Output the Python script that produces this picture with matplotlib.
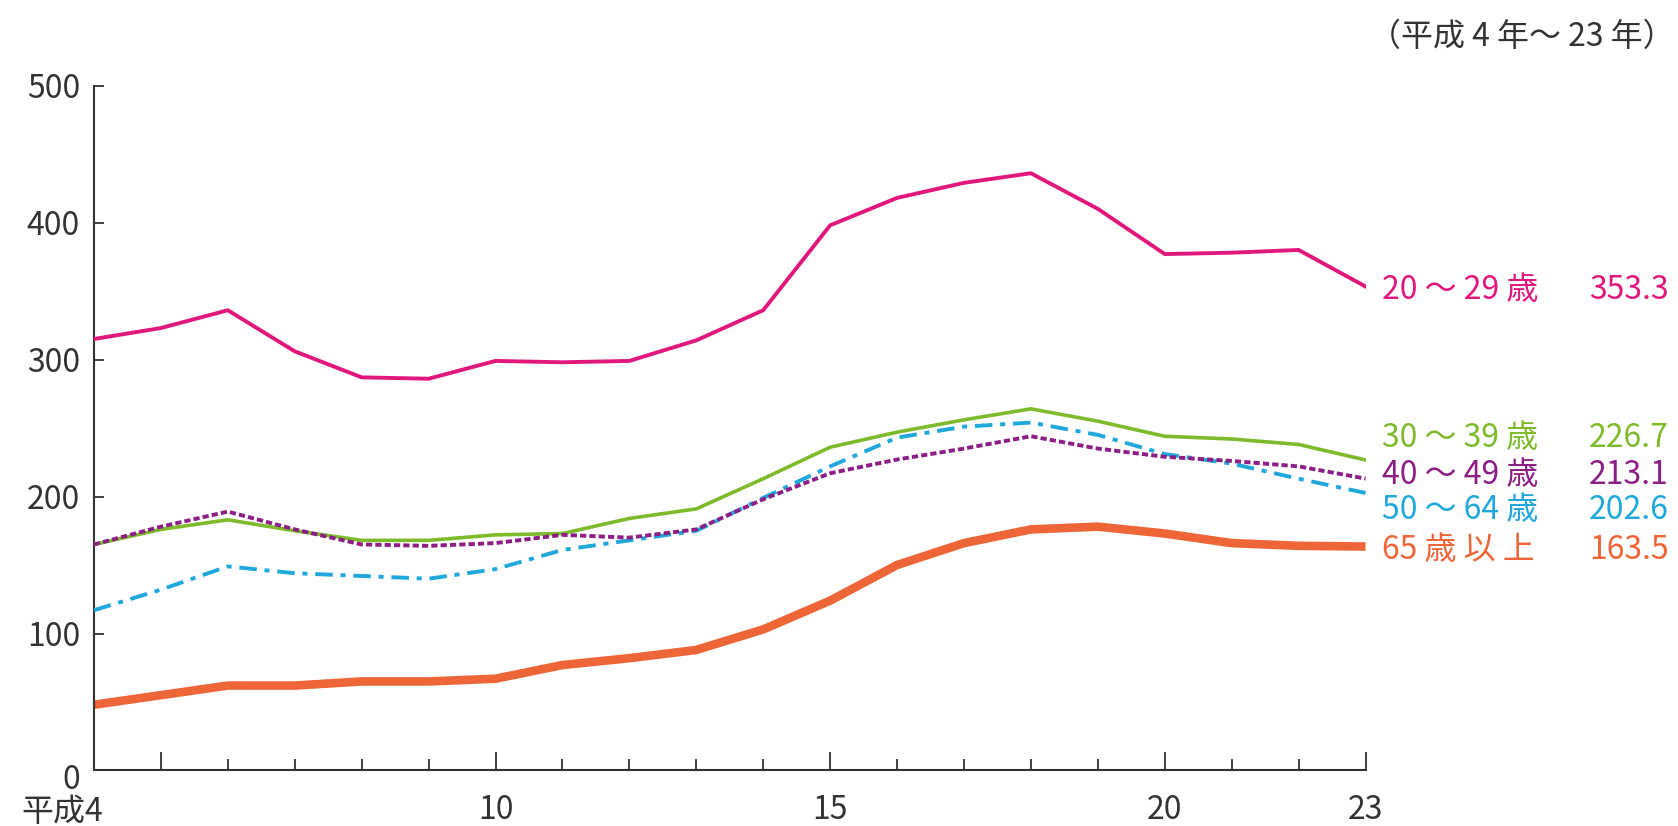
import matplotlib
matplotlib.use('Agg')
import matplotlib.pyplot as plt
import matplotlib.transforms as mtransforms

plt.rcParams['font.family'] = ['Noto Sans CJK JP', 'DejaVu Sans']

# 平成4年～23年
years = list(range(4, 24))

age20 = [315, 323, 336, 306, 287, 286, 299, 298, 299, 314, 336, 398, 418, 429, 436, 410, 377, 378, 380, 353.3]
age30 = [165, 176, 183, 175, 168, 168, 172, 173, 184, 191, 213, 236, 247, 256, 264, 255, 244, 242, 238, 226.7]
age40 = [165, 178, 189, 176, 165, 164, 166, 172, 170, 176, 198, 217, 227, 235, 244, 235, 229, 226, 222, 213.1]
age50 = [117, 132, 149, 144, 142, 140, 147, 161, 168, 175, 199, 222, 243, 251, 254, 245, 231, 224, 213, 202.6]
age65 = [48, 55, 62, 62, 65, 65, 67, 77, 82, 88, 103, 124, 150, 166, 176, 178, 173, 166, 164, 163.5]

names = ['20 ～ 29 歳', '30 ～ 39 歳', '40 ～ 49 歳', '50 ～ 64 歳', '65 歳 以 上']
last_vals = ['353.3', '226.7', '213.1', '202.6', '163.5']
label_y = [351, 243, 216, 190, 161]

colors = ['#E2177C', '#7DBB2B', '#8C1E86', '#1EA8DC', '#EE6538']

fig = plt.figure(figsize=(16.78, 8.26), dpi=100)
ax = fig.add_axes([0.056, 0.0672, 0.7578, 0.8292])

# 描画順：太いオレンジを下に
ax.plot(years, age65, color=colors[4], lw=6.2, solid_capstyle='butt', zorder=2)
ax.plot(years, age50, color=colors[3], lw=2.8, linestyle=(0, (4.5, 2.0, 1.3, 2.0)), zorder=3)
ax.plot(years, age40, color=colors[2], lw=2.8, linestyle=(0, (1.6, 0.8)), zorder=4)
ax.plot(years, age30, color=colors[1], lw=2.6, zorder=3)
ax.plot(years, age20, color=colors[0], lw=2.8, zorder=5)

ax.set_xlim(4, 23)
ax.set_ylim(0, 500)

for s in ['top', 'right']:
    ax.spines[s].set_visible(False)
ax.spines['left'].set_color('#333333')
ax.spines['bottom'].set_color('#333333')
ax.spines['left'].set_linewidth(1.5)
ax.spines['bottom'].set_linewidth(1.5)

ax.set_yticks([0, 100, 200, 300, 400, 500])
ax.tick_params(axis='y', direction='in', length=7, width=1.3, color='#333333',
               labelsize=23, labelcolor='#333333', pad=10)
# 「0」は少し下げる
lab0 = ax.get_yticklabels()[0]
lab0.set_transform(lab0.get_transform() + mtransforms.ScaledTranslation(0, -4 / 72, fig.dpi_scale_trans))

ax.set_xticks([5, 10, 15, 20, 23])
ax.set_xticklabels(['', '10', '15', '20', '23'])
ax.set_xticks([6, 7, 8, 9, 11, 12, 13, 14, 16, 17, 18, 19, 21, 22], minor=True)
ax.tick_params(axis='x', which='major', direction='in', length=13, width=1.3,
               color='#333333', labelsize=23, labelcolor='#333333', pad=17)
ax.tick_params(axis='x', which='minor', direction='in', length=8, width=1.3,
               color='#333333')

# 左端の「平成4」
trans = mtransforms.blended_transform_factory(ax.transData, ax.transAxes)
ax.text(4.13, -0.037, '平成4', transform=trans, ha='right', va='top',
        fontsize=23, color='#333333')

# 右側のラベル
for name, val, yv, c in zip(names, last_vals, label_y, colors):
    ax.text(23.24, yv, name, color=c, fontsize=23, ha='left', va='center', clip_on=False)
    ax.text(27.53, yv, val, color=c, fontsize=23, ha='right', va='center', clip_on=False)

fig.text(0.998, 0.955, '（平成 4 年～ 23 年）', ha='right', va='center',
         fontsize=23, color='#333333')

fig.savefig('out.png', dpi=100)
